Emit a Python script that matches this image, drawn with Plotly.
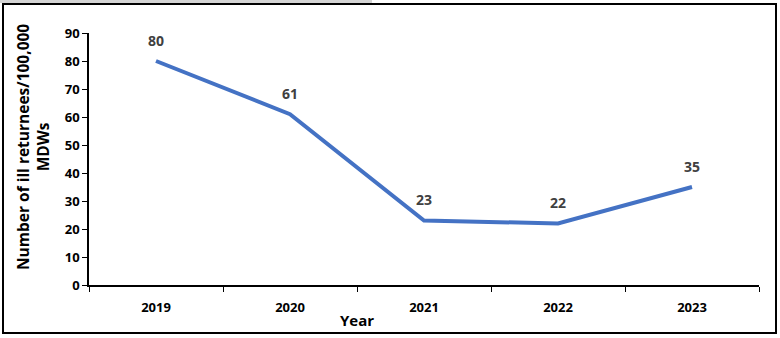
import plotly.graph_objects as go

years = ["2019", "2020", "2021", "2022", "2023"]
ill_returnees = [80, 61, 23, 22, 35]
y_ticks = [0, 10, 20, 30, 40, 50, 60, 70, 80, 90]

W, H = 780, 338
L, R, T, B = 89, 21, 33, 53
pw, ph = W - L - R, H - T - B

font = "Open Sans"
xpos = list(range(len(years)))
boundaries = [i - 0.5 for i in range(len(years) + 1)]


def px_x(px):
    return (px - L) / pw


def px_y(py):
    return (H - B - py) / ph


fig = go.Figure()
fig.add_trace(go.Scatter(
    x=xpos, y=ill_returnees, mode="lines",
    line=dict(color="#4472C4", width=4),
    hoverinfo="skip", showlegend=False,
))

for xi, v in zip(xpos, ill_returnees):
    fig.add_annotation(
        x=xi, y=v, text=str(v), showarrow=False,
        yshift=21, font=dict(family=font, size=14, color="#404040", weight="bold"),
    )

# x-axis title sits under the 2020/2021 boundary
fig.add_annotation(
    x=1.5, xref="x", y=px_y(320), yref="paper", yanchor="middle",
    text="Year", showarrow=False,
    font=dict(family=font, size=15, color="black", weight="bold"),
)

# rotated y-axis title, two lines
fig.add_annotation(
    x=px_x(33), xref="paper", y=px_y(147), yref="paper",
    xanchor="center", yanchor="middle", textangle=-90,
    text="Number of ill returnees/100,000<br>MDWs", showarrow=False,
    font=dict(family=font, size=15.5, color="black", weight="bold"),
)

# grey strip along the top edge and the outer frame around the chart
fig.add_shape(type="rect", xref="paper", yref="paper",
              x0=px_x(0), x1=px_x(372), y0=px_y(3), y1=px_y(0),
              fillcolor="#d4d4d4", line=dict(width=0), layer="below")
fig.add_shape(type="rect", xref="paper", yref="paper",
              x0=px_x(3), x1=px_x(776), y0=px_y(333), y1=px_y(4),
              line=dict(color="black", width=2))

fig.update_layout(
    width=W, height=H,
    margin=dict(l=L, r=R, t=T, b=B),
    paper_bgcolor="white", plot_bgcolor="white",
    font=dict(family=font, color="black"),
    xaxis=dict(
        range=[-0.5, len(years) - 0.5],
        tickvals=xpos, ticktext=years,
        ticks="outside", ticklen=10, tickcolor="rgba(0,0,0,0)",
        minor=dict(tickvals=boundaries, ticks="outside", ticklen=5,
                   tickcolor="black", showgrid=False),
        showline=True, linecolor="black", linewidth=1.5,
        tickfont=dict(family=font, size=13, color="black", weight="bold"),
        showgrid=False, zeroline=False,
    ),
    yaxis=dict(
        range=[0, 90], tickvals=y_ticks,
        showline=True, linecolor="black", linewidth=1.5,
        ticks="outside", ticklen=5, tickcolor="black",
        tickfont=dict(family=font, size=13, color="black", weight="bold"),
        showgrid=False, zeroline=False,
    ),
)

fig.write_html("out.html")
